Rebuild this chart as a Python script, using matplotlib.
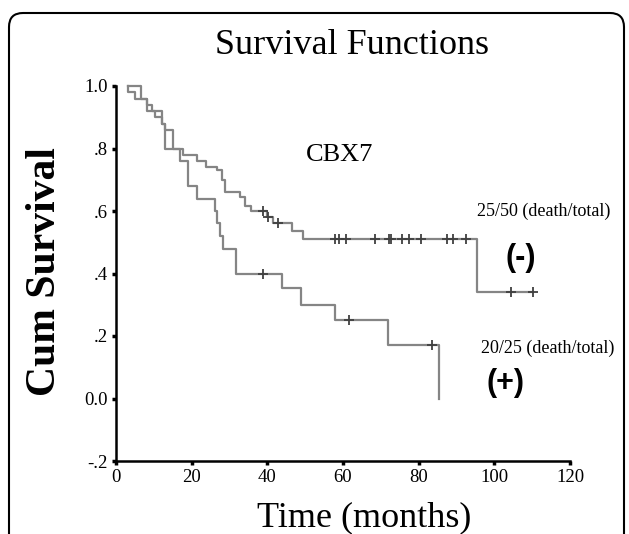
import numpy as np
import matplotlib.pyplot as plt
from matplotlib.patches import FancyBboxPatch
from matplotlib.transforms import IdentityTransform

# CBX7 negative group (-): step times (months) and survival after each step
start_t = 3.3
neg_times = [3.3, 5.0, 8.1, 9.4, 10.3, 12.1, 12.9, 15.1, 17.8, 21.3, 23.9, 26.6,
             27.9, 28.8, 32.7, 34.0, 35.8, 39.8, 41.5, 46.4, 49.4, 95.4]
neg_surv = [0.98, 0.96, 0.94, 0.92, 0.90, 0.88, 0.86, 0.80, 0.78, 0.76, 0.74, 0.73,
            0.70, 0.66, 0.645, 0.615, 0.60, 0.58, 0.56, 0.535, 0.51, 0.34]
neg_end = 110.3
neg_censor = [38.9, 40.3, 42.8, 57.8, 59.0, 60.9, 68.5, 72.1, 72.7, 75.5, 77.5,
              80.7, 87.4, 89.0, 92.5, 104.4, 110.3]

# CBX7 positive group (+)
pos_times = [6.5, 8.1, 12.1, 12.9, 16.9, 19.1, 21.3, 26.1, 26.6, 27.4, 28.3, 31.8,
             44.0, 49.0, 58.0, 71.9, 85.5]
pos_surv = [0.96, 0.92, 0.88, 0.80, 0.76, 0.68, 0.64, 0.60, 0.56, 0.52, 0.48, 0.40,
            0.355, 0.30, 0.25, 0.17, 0.0]
pos_censor = [38.9, 61.5, 83.5]

yticks = [-0.2, 0.0, 0.2, 0.4, 0.6, 0.8, 1.0]
ytick_labels = ['-.2', '0.0', '.2', '.4', '.6', '.8', '1.0']
xticks = [0, 20, 40, 60, 80, 100, 120]


def surv_at(t, times, surv):
    s = 1.0
    for ti, si in zip(times, surv):
        if ti <= t:
            s = si
    return s


serif = 'Liberation Serif'
line_col = '#858585'

fig = plt.figure(figsize=(6.29, 5.34), dpi=100)
ax = fig.add_axes([116 / 629, 73 / 534, 454 / 629, 375 / 534])

x_neg = [start_t] + neg_times + [neg_end]
y_neg = [1.0] + neg_surv + [neg_surv[-1]]
ax.step(x_neg, y_neg, where='post', color=line_col, lw=1.6, clip_on=False)

x_pos = [start_t] + pos_times
y_pos = [1.0] + pos_surv
ax.step(x_pos, y_pos, where='post', color=line_col, lw=1.6, clip_on=False)

ax.plot(neg_censor, [surv_at(t, neg_times, neg_surv) for t in neg_censor],
        linestyle='none', marker='+', ms=7, mew=1.3, color='#404040')
ax.plot(pos_censor, [surv_at(t, pos_times, pos_surv) for t in pos_censor],
        linestyle='none', marker='+', ms=7, mew=1.3, color='#404040')

ax.set_xlim(0, 120)
ax.set_ylim(-0.2, 1.0)
ax.set_xticks(xticks)
ax.set_xticklabels([str(v) for v in xticks], fontfamily=serif, fontsize=13.5)
ax.set_yticks(yticks)
ax.set_yticklabels(ytick_labels, fontfamily=serif, fontsize=13.5)
ax.tick_params(direction='out', length=3, width=2.5, color='black', pad=3)
for side in ['top', 'right']:
    ax.spines[side].set_visible(False)
for side in ['left', 'bottom']:
    ax.spines[side].set_linewidth(1.8)

ax.text(59, 0.78, 'CBX7', fontfamily=serif, fontsize=19, ha='center', va='center')
ax.text(113, 0.60, '25/50 (death/total)', fontfamily=serif, fontsize=13,
        ha='center', va='center', clip_on=False)
ax.text(107, 0.45, '(-)', fontfamily='Liberation Sans', fontweight='bold', fontsize=22,
        ha='center', va='center', clip_on=False)
ax.text(114, 0.16, '20/25 (death/total)', fontfamily=serif, fontsize=13,
        ha='center', va='center', clip_on=False)
ax.text(103, 0.05, '(+)', fontfamily='Liberation Sans', fontweight='bold', fontsize=22,
        ha='center', va='center', clip_on=False)

fig.text(352 / 629, 1 - 45 / 534, 'Survival Functions', fontfamily=serif, fontsize=26,
         ha='center', va='center')
fig.text(364 / 629, 1 - 518 / 534, 'Time (months)', fontfamily=serif, fontsize=26,
         ha='center', va='center')
fig.text(45 / 629, 1 - 272 / 534, 'Cum Survival', fontfamily=serif, fontsize=30,
         fontweight='bold', rotation=90, ha='center', va='center')

frame = FancyBboxPatch((9, -30), 615, 551, boxstyle='round,pad=0,rounding_size=14',
                       transform=IdentityTransform(), fill=False, lw=1.5,
                       edgecolor='black')
fig.patches.append(frame)

fig.savefig('out.png', dpi=100)
